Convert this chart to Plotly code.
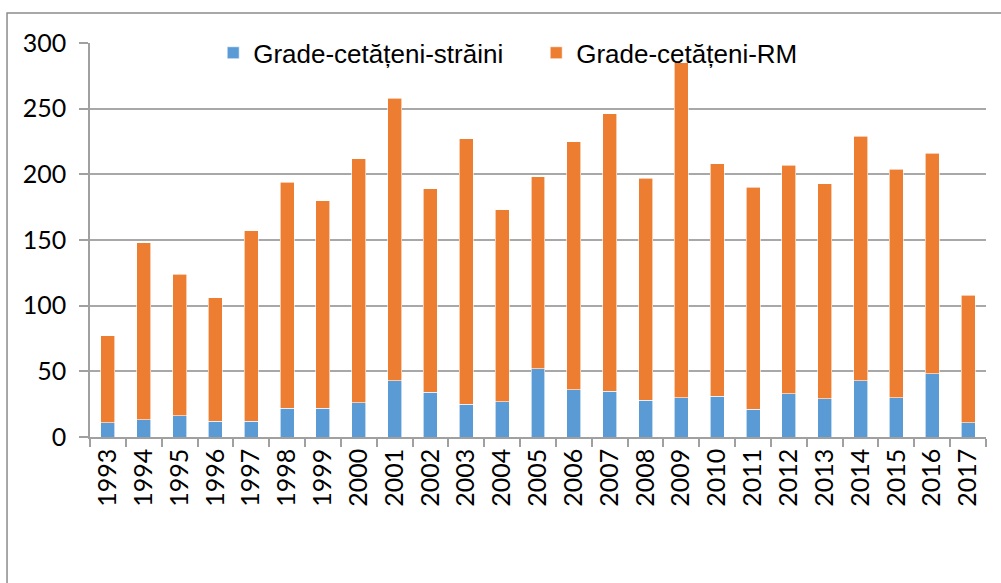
import plotly.graph_objects as go

years = [str(y) for y in range(1993, 2018)]
totals = [77, 148, 124, 106, 157, 194, 180, 212, 258, 189, 227, 173, 198,
          225, 246, 197, 285, 208, 190, 207, 193, 229, 204, 216, 108]
straini = [11, 13, 16, 12, 12, 22, 22, 26, 43, 34, 25, 27, 52,
           36, 35, 28, 30, 31, 21, 33, 29, 43, 30, 48, 11]
rm = [t - s for t, s in zip(totals, straini)]

blue = "#5B9BD5"
orange = "#ED7D31"

fig = go.Figure()
fig.add_trace(go.Bar(x=years, y=straini, name="Grade-cetățeni-străini",
                     marker=dict(color=blue, line=dict(color="#ffffff", width=0.6))))
fig.add_trace(go.Bar(x=years, y=rm, name="Grade-cetățeni-RM",
                     marker=dict(color=orange, line=dict(color="#ffffff", width=0.6))))

fig.update_layout(
    barmode="stack",
    bargap=0.61,
    width=1001, height=583,
    margin=dict(l=90, r=15, t=43, b=146),
    plot_bgcolor="white", paper_bgcolor="white",
    showlegend=True,
    legend=dict(orientation="h", x=0.1375, xanchor="left", y=0.975, yanchor="middle",
                font=dict(family="Liberation Sans, Arial", size=26, color="#000000"),
                bgcolor="rgba(0,0,0,0)", entrywidth=278, traceorder="normal"),
    xaxis=dict(type="category", showline=True, linecolor="#a0a0a0", linewidth=1.5,
               ticks="outside", tickson="boundaries", ticklen=8, tickcolor="#a0a0a0",
               tickwidth=1.5, tickangle=-90,
               tickfont=dict(family="Lato", size=25, color="#000000"),
               showgrid=False),
    yaxis=dict(range=[0, 300], dtick=50, showline=True, linecolor="#a0a0a0", linewidth=1.5,
               ticks="outside", ticklen=9, tickcolor="#a0a0a0", tickwidth=1.5,
               gridcolor="#a8a8a8", gridwidth=1.5, zeroline=False,
               ticklabelstandoff=8,
               tickfont=dict(family="Lato", size=25, color="#000000")),
    shapes=[dict(type="rect", xref="paper", yref="paper",
                 x0=-0.0926, x1=1.5, y0=-2, y1=1.076,
                 line=dict(color="#8c8c8c", width=1.5), fillcolor="rgba(0,0,0,0)", layer="below")],
)

fig.write_html("out.html", config={"displayModeBar": False},
               post_script="document.body.style.margin='0';document.body.style.overflow='hidden';")
